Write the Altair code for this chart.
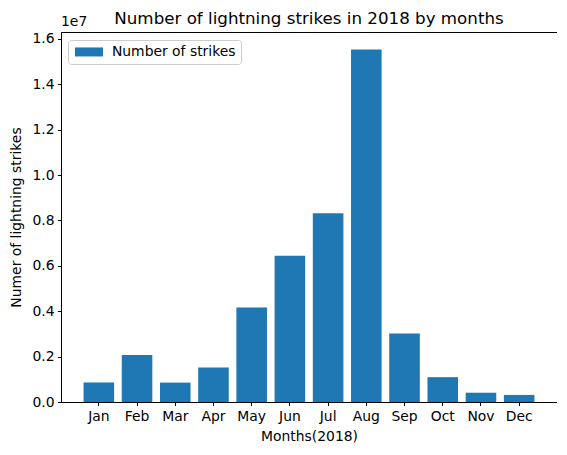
import altair as alt
import pandas as pd

months = ["Jan", "Feb", "Mar", "Apr", "May", "Jun", "Jul", "Aug", "Sep", "Oct", "Nov", "Dec"]
strikes = [860045, 2071315, 854168, 1524339, 4166726, 6445083,
           8320400, 15525255, 3018336, 1093962, 409263, 312097]
y_ticks = [0.0, 0.2, 0.4, 0.6, 0.8, 1.0, 1.2, 1.4, 1.6]
chart_title = "Number of lightning strikes in 2018 by months"

df = pd.DataFrame({
    "month": months,
    "strikes_e7": [s / 1e7 for s in strikes],
    "series": ["Number of strikes"] * len(months),
})
one_row = pd.DataFrame({"label": ["1e7"], "title": [chart_title]})

FONT = "DejaVu Sans"
W, H = 496, 370

bars = alt.Chart(df).mark_bar(color="#1f77b4").encode(
    x=alt.X(
        "month:N",
        sort=months,
        title="Months(2018)",
        scale=alt.Scale(paddingInner=0.2, paddingOuter=0.59),
        axis=alt.Axis(labelAngle=0, tickSize=3.5, labelPadding=3.5, titlePadding=7),
    ),
    y=alt.Y(
        "strikes_e7:Q",
        title="Numer of lightning strikes",
        scale=alt.Scale(domain=[0, 1.63], nice=False, zero=True),
        axis=alt.Axis(values=y_ticks, format=".1f", tickSize=3.5, labelPadding=3.5,
                      grid=False, titlePadding=8),
    ),
    color=alt.Color(
        "series:N",
        scale=alt.Scale(range=["#1f77b4"]),
        legend=alt.Legend(
            title=None,
            orient="none",
            legendX=7,
            legendY=8,
            fillColor="white",
            strokeColor="#cccccc",
            cornerRadius=3,
            padding=5,
            symbolType="M-2.8,-0.9L2.8,-0.9L2.8,0.9L-2.8,0.9Z",
            symbolSize=100,
            symbolOffset=9,
            symbolStrokeWidth=0,
            symbolOpacity=1,
            labelFontSize=13.9,
            labelFont=FONT,
            labelColor="black",
            labelOffset=16,
        ),
    ),
)

offset_label = alt.Chart(one_row).mark_text(
    align="left", baseline="bottom", font=FONT, fontSize=13.9, color="black"
).encode(
    x=alt.value(0),
    y=alt.value(-3),
    text="label:N",
)

title_text = alt.Chart(one_row).mark_text(
    align="center", baseline="alphabetic", font=FONT, fontSize=16.7, color="black"
).encode(
    x=alt.value(W / 2),
    y=alt.value(-8),
    text="title:N",
)

chart = (
    alt.layer(bars, offset_label, title_text)
    .properties(
        width=W,
        height=H,
        autosize=alt.AutoSizeParams(type="none"),
        padding={"left": 53, "top": 24, "right": 0, "bottom": 50},
    )
    .configure_view(stroke="black", strokeWidth=1)
    .configure_axis(
        domainColor="black",
        tickColor="black",
        labelColor="black",
        titleColor="black",
        labelFont=FONT,
        titleFont=FONT,
        labelFontSize=13.9,
        titleFontSize=13.9,
        titleFontWeight="normal",
        domainWidth=1,
        tickWidth=1,
    )
)

chart.save("out.html", embed_options={"renderer": "svg", "actions": False})
